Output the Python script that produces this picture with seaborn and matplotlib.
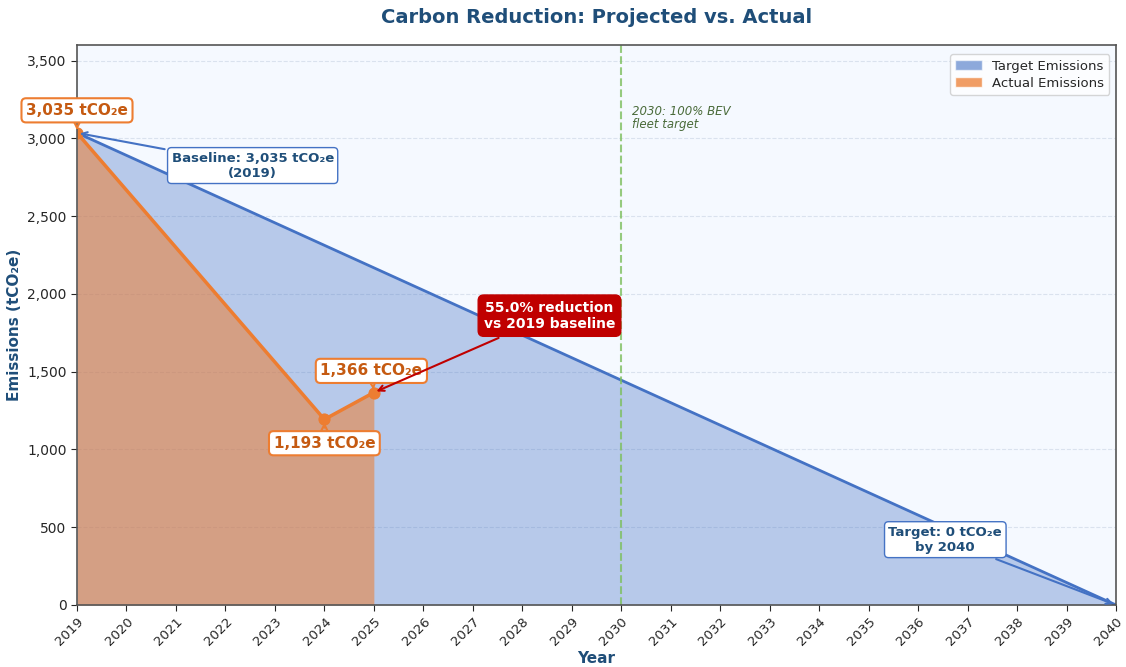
import numpy as np
import pandas as pd
import seaborn as sns
import matplotlib.pyplot as plt
from matplotlib.patches import Patch
from matplotlib.ticker import FuncFormatter

# Data
target_years = [2019, 2040]
target_values = [3035, 0]
actual_years = [2019, 2024, 2025]
actual_values = [3035, 1193, 1366]
year_ticks = list(range(2019, 2041))
bev_year = 2030

BLUE = "#4472c4"
ORANGE = "#ed7d31"
DARK_BLUE = "#1f4e79"
RED = "#c00000"

sns.set_style("white")
plt.rcParams["font.family"] = ["DejaVu Sans"]

target = pd.DataFrame({"Year": target_years, "Emissions": target_values})
actual = pd.DataFrame({"Year": actual_years, "Emissions": actual_values})

fig = plt.figure(figsize=(11.26, 6.67), dpi=100)
ax = fig.add_axes([77 / 1126, 62 / 667, 1039 / 1126, 560 / 667])
ax.set_facecolor("#f5f9ff")

# Target line + fill
ax.fill_between(target["Year"], target["Emissions"], color=BLUE, alpha=0.35, linewidth=0)
sns.lineplot(data=target, x="Year", y="Emissions", ax=ax, color=BLUE, linewidth=2)

# Actual line + fill
ax.fill_between(actual["Year"], actual["Emissions"], color=ORANGE, alpha=0.55, linewidth=0)
sns.lineplot(data=actual, x="Year", y="Emissions", ax=ax, color=ORANGE, linewidth=2.5,
             marker="o", markersize=8, markeredgecolor=ORANGE)

# 2030 fleet target line
ax.axvline(bev_year, color="#7dbf5e", linestyle="--", linewidth=1.5, alpha=0.8)
ax.text(bev_year + 0.22, 3130, "2030: 100% BEV\nfleet target", fontsize=8.5,
        style="italic", color="#4a6b3a", va="center", ha="left", linespacing=1.0)

# Annotations
ax.annotate("3,035 tCO\u2082e", xy=(actual_years[0], actual_values[0]), xytext=(2019, 3180),
            ha="center", va="center", fontsize=11, fontweight="bold", color="#c55a11",
            bbox=dict(boxstyle="round,pad=0.3", fc="white", ec=ORANGE, lw=1.5),
            arrowprops=dict(arrowstyle="->", color=ORANGE, lw=1.5), annotation_clip=False)

ax.annotate("Baseline: 3,035 tCO\u2082e\n(2019)", xy=(target_years[0], target_values[0]),
            xytext=(2022.55, 2825), ha="center", va="center", fontsize=9.5,
            fontweight="bold", color=DARK_BLUE,
            bbox=dict(boxstyle="round,pad=0.3", fc="white", ec=BLUE, lw=1),
            arrowprops=dict(arrowstyle="->", color=BLUE, lw=1.5))

ax.annotate("1,366 tCO\u2082e", xy=(actual_years[2], actual_values[2]), xytext=(2024.95, 1505),
            ha="center", va="center", fontsize=11, fontweight="bold", color="#c55a11",
            bbox=dict(boxstyle="round,pad=0.3", fc="white", ec=ORANGE, lw=1.5),
            arrowprops=dict(arrowstyle="->", color=ORANGE, lw=1.5))

ax.annotate("1,193 tCO\u2082e", xy=(actual_years[1], actual_values[1]), xytext=(2024, 1040),
            ha="center", va="center", fontsize=11, fontweight="bold", color="#c55a11",
            bbox=dict(boxstyle="round,pad=0.3", fc="white", ec=ORANGE, lw=1.5),
            arrowprops=dict(arrowstyle="->", color=ORANGE, lw=1.5))

reduction = (1 - actual_values[2] / actual_values[0]) * 100
ax.annotate(f"{reduction:.1f}% reduction\nvs 2019 baseline", xy=(actual_years[2], actual_values[2]),
            xytext=(2028.55, 1860), ha="center", va="center", fontsize=10,
            fontweight="bold", color="white",
            bbox=dict(boxstyle="round,pad=0.4", fc=RED, ec=RED),
            arrowprops=dict(arrowstyle="->", color=RED, lw=1.5))

ax.annotate("Target: 0 tCO\u2082e\nby 2040", xy=(target_years[1], target_values[1]),
            xytext=(2036.55, 420), ha="center", va="center", fontsize=9.5,
            fontweight="bold", color=DARK_BLUE,
            bbox=dict(boxstyle="round,pad=0.3", fc="white", ec=BLUE, lw=1),
            arrowprops=dict(arrowstyle="->", color=BLUE, lw=1.5))

# Axes styling
ax.set_xlim(2019, 2040)
ax.set_ylim(0, 3600)
ax.set_xticks(year_ticks)
ax.set_xticklabels([str(y) for y in year_ticks], rotation=45, ha="right",
                   rotation_mode="anchor", fontsize=9.5)
ax.yaxis.set_major_formatter(FuncFormatter(lambda v, p: f"{int(v):,}"))
ax.tick_params(axis="y", labelsize=10, left=True, length=4)
ax.tick_params(axis="x", bottom=True, length=4)
ax.yaxis.grid(True, linestyle="--", color="#c8d4e3", alpha=0.6)
ax.set_axisbelow(True)
for s in ax.spines.values():
    s.set_color("#555555")
    s.set_linewidth(1.2)

ax.set_xlabel("Year", fontsize=11, fontweight="bold", color=DARK_BLUE, labelpad=2)
ax.set_ylabel("Emissions (tCO\u2082e)", fontsize=11, fontweight="bold", color=DARK_BLUE)
ax.set_title("Carbon Reduction: Projected vs. Actual", fontsize=14, fontweight="bold",
             color=DARK_BLUE, pad=16)

handles = [Patch(facecolor=BLUE, alpha=0.6, label="Target Emissions"),
           Patch(facecolor=ORANGE, alpha=0.75, label="Actual Emissions")]
ax.legend(handles=handles, loc="upper right", bbox_to_anchor=(1.0, 0.995),
          fontsize=9.5, frameon=True, facecolor="white", edgecolor="#cccccc",
          labelspacing=0.3, borderpad=0.4)

fig.savefig("out.png", dpi=100)
